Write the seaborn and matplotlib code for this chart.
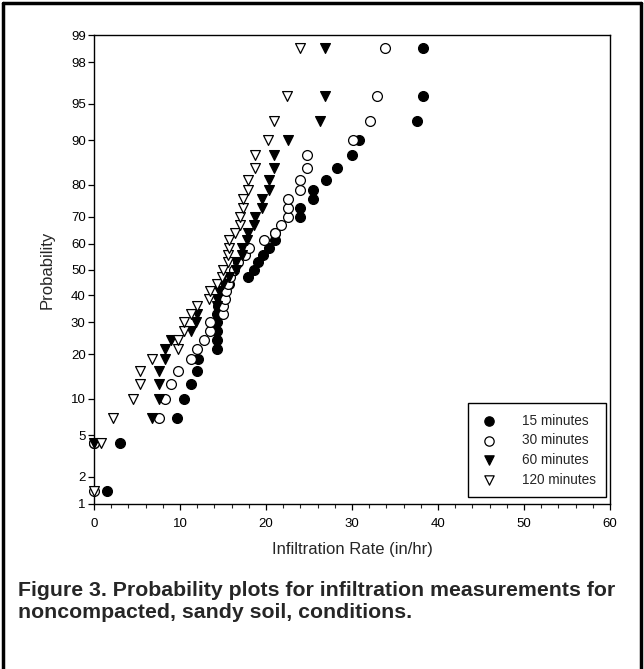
from statistics import NormalDist

import numpy as np
import pandas as pd
import matplotlib
matplotlib.use("Agg")
import matplotlib.pyplot as plt
from matplotlib.lines import Line2D
import seaborn as sns

# Infiltration rate (in/hr) and plotting-position probability (%) per test duration
rate_15 = [1.5, 0.0, 3.0, 9.7, 10.5, 11.3, 12.0, 12.1, 14.3, 14.3, 14.3, 14.3, 14.3,
           14.4, 14.9, 15.0, 15.7, 17.9, 18.6, 19.1, 19.7, 20.3, 21.0, 21.1, 24.0,
           24.0, 25.5, 25.5, 27.0, 28.3, 30.0, 30.8, 37.5, 38.3, 38.3]
prob_15 = [1.4, 4.3, 4.3, 7.1, 10.0, 12.9, 15.7, 18.6, 21.4, 24.3, 27.1, 30.0, 32.9,
           35.7, 38.6, 41.4, 44.3, 47.1, 50.0, 52.9, 55.7, 58.6, 61.4, 64.3, 70.0,
           72.9, 75.7, 78.6, 81.4, 84.3, 87.1, 90.0, 92.9, 95.7, 98.6]

rate_30 = [0.0, 0.0, 7.5, 8.3, 9.0, 9.8, 11.3, 12.0, 12.8, 13.5, 13.5, 15.0, 15.0,
           15.2, 15.4, 15.6, 15.8, 16.3, 16.8, 17.5, 18.0, 19.8, 21.0, 21.8, 22.5,
           22.5, 22.5, 24.0, 24.0, 24.8, 24.8, 30.1, 32.1, 32.9, 33.8]
prob_30 = [1.4, 4.3, 7.1, 10.0, 12.9, 15.7, 18.6, 21.4, 24.3, 27.1, 30.0, 32.9, 35.7,
           38.6, 41.4, 44.3, 47.1, 50.0, 52.9, 55.7, 58.6, 61.4, 64.3, 67.1, 70.0,
           72.9, 75.7, 78.6, 81.4, 84.3, 87.1, 90.0, 92.9, 95.7, 98.6]

rate_60 = [0.0, 6.7, 7.5, 7.5, 7.5, 8.2, 8.2, 9.0, 11.3, 11.9, 12.0, 14.3, 14.3,
           14.5, 15.0, 15.7, 16.5, 16.5, 17.2, 17.2, 17.8, 17.9, 18.6, 18.7, 19.5,
           19.5, 20.3, 20.3, 20.9, 20.9, 22.6, 26.3, 26.9, 26.9]
prob_60 = [4.3, 7.1, 10.0, 12.9, 15.7, 18.6, 21.4, 24.3, 27.1, 30.0, 32.9, 35.7,
           38.6, 41.4, 44.3, 47.1, 50.0, 52.9, 55.7, 58.6, 61.4, 64.3, 67.1, 70.0,
           72.9, 75.7, 78.6, 81.4, 84.3, 87.1, 90.0, 92.9, 95.7, 98.6]

rate_120 = [0.0, 0.8, 2.2, 4.5, 5.3, 5.3, 6.8, 9.8, 9.8, 10.5, 10.5, 11.3, 12.0,
            13.4, 13.5, 14.3, 14.9, 15.0, 15.6, 15.6, 15.7, 15.7, 16.4, 17.0, 17.0,
            17.3, 17.3, 17.9, 17.9, 18.7, 18.7, 20.2, 20.9, 22.4, 24.0]
prob_120 = [1.4, 4.3, 7.1, 10.0, 12.9, 15.7, 18.6, 21.4, 24.3, 27.1, 30.0, 32.9,
            35.7, 38.6, 41.4, 44.3, 47.1, 50.0, 52.9, 55.7, 58.6, 61.4, 64.3, 67.1,
            70.0, 72.9, 75.7, 78.6, 81.4, 84.3, 87.1, 90.0, 92.9, 95.7, 98.6]

durations = ["15 minutes", "30 minutes", "60 minutes", "120 minutes"]
prob_ticks = [1, 2, 5, 10, 20, 30, 40, 50, 60, 70, 80, 90, 95, 98, 99]
rate_ticks = [0, 10, 20, 30, 40, 50, 60]

df = pd.concat([
    pd.DataFrame({"rate": r, "prob": p, "duration": d})
    for r, p, d in zip([rate_15, rate_30, rate_60, rate_120],
                       [prob_15, prob_30, prob_60, prob_120], durations)
], ignore_index=True)

# Normal-probability axis
_nd = NormalDist()
_ppf = np.vectorize(_nd.inv_cdf, otypes=[float])
_cdf = np.vectorize(_nd.cdf, otypes=[float])


def prob_to_z(p):
    p = np.clip(np.asarray(p, dtype=float) / 100.0, 1e-7, 1 - 1e-7)
    return _ppf(p)


def z_to_prob(z):
    return _cdf(np.asarray(z, dtype=float)) * 100.0


sns.set_style("ticks")
plt.rcParams["font.family"] = ["Liberation Sans", "DejaVu Sans"]

fig = plt.figure(figsize=(6.44, 6.69), dpi=100)
ax = fig.add_axes([94 / 644, 1 - 504 / 669, 516 / 644, 469 / 669])

styles = {
    "15 minutes": dict(marker="o", facecolor="black"),
    "30 minutes": dict(marker="o", facecolor="white"),
    "60 minutes": dict(marker="v", facecolor="black"),
    "120 minutes": dict(marker="v", facecolor="white"),
}
for i, d in enumerate(durations):
    st = styles[d]
    sub = df[df["duration"] == d]
    sns.scatterplot(data=sub, x="rate", y="prob", ax=ax, marker=st["marker"],
                    s=50, facecolor=st["facecolor"], edgecolor="black",
                    linewidth=0.9, label=d, clip_on=False, zorder=3 + i)

ax.set_yscale("function", functions=(prob_to_z, z_to_prob))
ax.set_ylim(1, 99)
ax.set_xlim(0, 60)
ax.set_yticks(prob_ticks)
ax.set_yticklabels([str(t) for t in prob_ticks])
ax.yaxis.set_minor_locator(matplotlib.ticker.NullLocator())
ax.set_xticks(rate_ticks)
ax.set_xticks(np.arange(0, 61, 2), minor=True)

for sp in ax.spines.values():
    sp.set_visible(True)
    sp.set_color("black")
    sp.set_linewidth(1.0)

ax.tick_params(axis="both", which="major", direction="out", length=4, width=0.9,
               labelsize=9.5, colors="black")
ax.tick_params(axis="x", which="minor", direction="out", length=3, width=0.8)
ax.tick_params(axis="x", which="major", pad=6)
ax.tick_params(axis="y", which="major", pad=2)

ax.set_xlabel("Infiltration Rate (in/hr)", fontsize=12, labelpad=9)
ax.set_ylabel("Probability", fontsize=12, labelpad=12)

leg = ax.legend(loc="lower right", bbox_to_anchor=(0.992, 0.015), frameon=True,
                fancybox=False, edgecolor="black", framealpha=1, fontsize=9.8,
                borderpad=0.75, labelspacing=0.42, handletextpad=1.6,
                handlelength=1.6, borderaxespad=0, markerscale=0.95)
leg.get_frame().set_linewidth(1.0)

fig.text(0.028, 1 - 602 / 669,
         "Figure 3. Probability plots for infiltration measurements for\n"
         "noncompacted, sandy soil, conditions.",
         fontsize=15.3, fontweight="bold", ha="left", va="center",
         linespacing=1.2)

# Frame around the whole figure
for xs, ys in [([0.005, 0.005], [0, 0.995]), ([0.005, 0.995], [0.995, 0.995]),
               ([0.995, 0.995], [0.995, 0])]:
    fig.add_artist(Line2D(xs, ys, transform=fig.transFigure, color="black",
                          linewidth=2.5))

fig.savefig("out.png", dpi=100)
